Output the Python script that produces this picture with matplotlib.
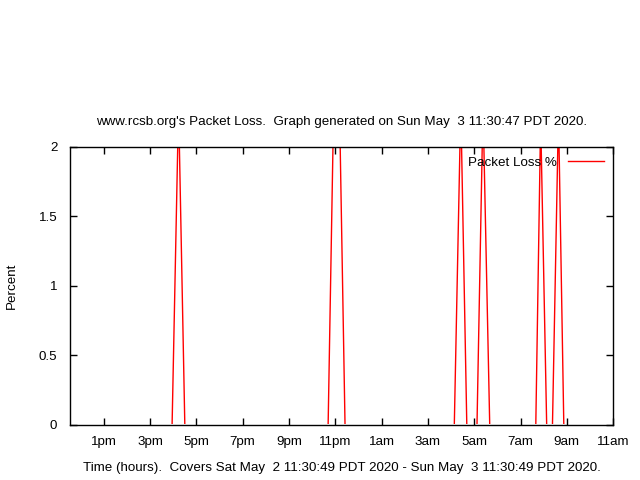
import matplotlib
matplotlib.use('Agg')
import matplotlib.pyplot as plt
from matplotlib.transforms import Bbox, TransformedBbox

# hours since midnight Sat May 2 (24 = midnight Sun May 3)
hours = [11.53, 15.95, 16.23, 16.50, 22.69, 22.93, 23.18, 23.42,
         28.14, 28.42, 28.68, 29.12, 29.38, 29.67,
         31.66, 31.87, 32.13, 32.38, 32.64, 32.87, 35.0]
loss = [0, 0, 2.3, 0, 0, 2.3, 2.3, 0,
        0, 2.3, 0, 0, 2.3, 0,
        0, 2.2, 0, 0, 2.25, 0, 0]

tick_hours = [13, 15, 17, 19, 21, 23, 25, 27, 29, 31, 33, 35]
tick_labels = ['1pm', '3pm', '5pm', '7pm', '9pm', '11pm',
               '1am', '3am', '5am', '7am', '9am', '11am']
y_ticks = [0, 0.5, 1, 1.5, 2]
y_labels = ['0', '0.5', '1', '1.5', '2']

plt.rcParams['font.family'] = ['Liberation Sans', 'DejaVu Sans']
fs = 9.6

fig = plt.figure(figsize=(6.4, 4.8), dpi=100)
ax = fig.add_axes([0.109, 0.1146, 0.849, 0.5792])

line, = ax.plot(hours, loss, color='red', linewidth=1, zorder=1, label='Packet Loss %')
# keep the zero baseline hidden under the black border, like gnuplot
line.set_clip_box(TransformedBbox(Bbox([[0, 0.005], [1, 1]]), ax.transAxes))

ax.set_xlim(11.53, 35.0)
ax.set_ylim(0, 2)
ax.set_xticks(tick_hours)
ax.set_xticklabels(tick_labels)
ax.set_yticks(y_ticks)
ax.set_yticklabels(y_labels)
ax.tick_params(direction='in', top=True, right=True, length=5, width=1, labelsize=fs)
ax.tick_params(axis='x', pad=8)
ax.tick_params(axis='y', pad=9)
for s in ax.spines.values():
    s.set_linewidth(1.0)
    s.set_zorder(5)

ax.set_title("www.rcsb.org's Packet Loss.  Graph generated on Sun May  3 11:30:47 PDT 2020.",
             fontsize=fs, pad=16)
ax.set_xlabel('Time (hours).  Covers Sat May  2 11:30:49 PDT 2020 - Sun May  3 11:30:49 PDT 2020.',
              fontsize=fs, labelpad=10)
fig.text(12 / 640, 1 - 286 / 480, 'Percent', rotation=90, fontsize=fs,
         ha='center', va='center')

leg = ax.legend(loc='upper right', frameon=False, markerfirst=False, fontsize=fs,
                handlelength=2.7, borderaxespad=0.3, handletextpad=0.8)

fig.savefig('out.png', dpi=100)
